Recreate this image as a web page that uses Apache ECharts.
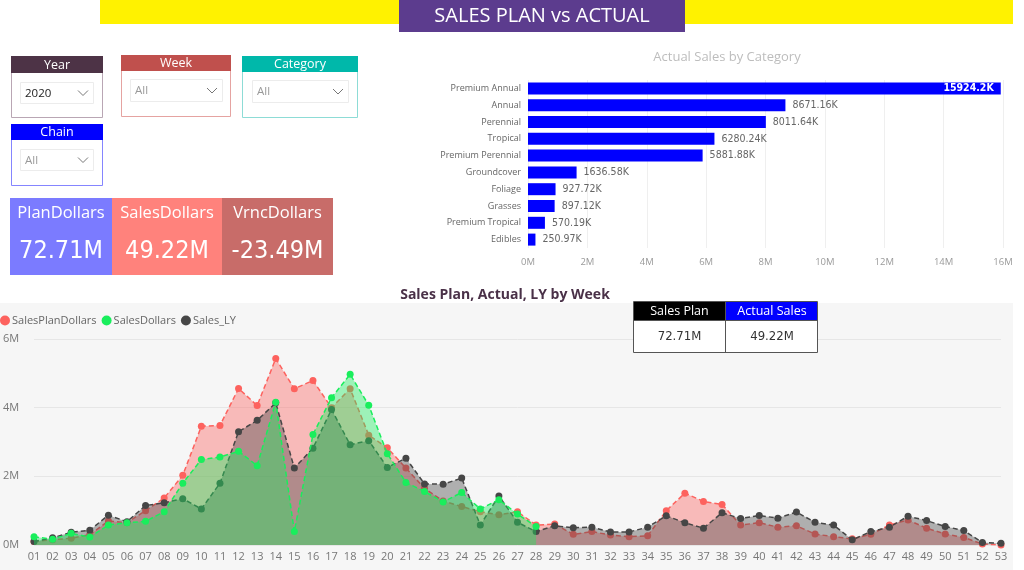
<!DOCTYPE html>
<html>
<head>
<meta charset="utf-8">
<script src="https://cdn.jsdelivr.net/npm/echarts@6/dist/echarts.min.js"></script>
<style>
html,body{margin:0;padding:0;background:#fff;}
#main{width:1024px;height:570px;}
</style>
</head>
<body>
<div id="main"></div>
<script>
// ---------- data ----------
var categories = ['Premium Annual','Annual','Perennial','Tropical','Premium Perennial','Groundcover','Foliage','Grasses','Premium Tropical','Edibles'];
var categorySalesK = [15924.2, 8671.16, 8011.64, 6280.24, 5881.88, 1636.58, 927.72, 897.12, 570.19, 250.97];

var weeks = ['01','02','03','04','05','06','07','08','09','10','11','12','13','14','15','16','17','18','19','20','21','22','23','24','25','26','27','28','29','30','31','32','33','34','35','36','37','38','39','40','41','42','43','44','45','46','47','48','49','50','51','52','53'];
// values in millions
var salesPlan = [0.10,0.15,0.20,0.30,0.70,0.65,1.00,1.37,2.03,3.46,3.48,4.56,4.06,5.43,4.55,4.79,4.00,4.55,3.20,2.83,2.24,1.65,1.28,1.12,0.97,0.88,0.97,0.58,0.61,0.31,0.39,0.29,0.24,0.27,1.00,1.51,1.27,1.18,0.58,0.65,0.52,0.56,0.32,0.24,0.18,0.31,0.58,0.73,0.49,0.32,0.22,0.03,0.00];
var salesActual = [0.24,0.17,0.34,0.23,0.58,0.65,0.69,0.97,1.80,2.49,2.56,2.73,2.31,4.16,0.39,3.22,4.29,4.97,4.07,2.66,1.82,1.56,1.25,1.53,1.05,1.32,0.90,0.54,null,null,null,null,null,null,null,null,null,null,null,null,null,null,null,null,null,null,null,null,null,null,null,null,null];
var salesLY = [0.10,0.21,0.37,0.43,0.87,0.68,1.15,1.23,1.35,1.05,1.80,3.30,3.63,4.14,2.24,2.82,3.95,2.92,3.04,2.26,2.53,1.78,1.77,1.95,0.58,1.43,0.66,0.39,0.56,0.50,0.52,0.38,0.38,0.52,0.85,0.65,0.49,0.94,0.77,0.86,0.78,0.96,0.66,0.58,0.15,0.39,0.52,0.84,0.71,0.54,0.42,0.07,0.05];
var yTicksM = [0, 6, 2];   // min, max, interval (millions)
var barTicksK = [0, 16000, 2000];

var kpiLabels = ['PlanDollars','SalesDollars','VrncDollars'];
var kpiValues = ['72.71M','49.22M','-23.49M'];
var tableHeaders = ['Sales Plan','Actual Sales'];
var tableValues = ['72.71M','49.22M'];

// ---------- helpers ----------
var SEG = "'Open Sans', 'Noto Sans', sans-serif";
var DIN = "'DejaVu Sans Condensed', Roboto, sans-serif";
var g = [];
function rect(x,y,w,h,fill,stroke,z){g.push({type:'rect',z:z||1,shape:{x:x,y:y,width:w,height:h},style:{fill:fill||'none',stroke:stroke||null,lineWidth:1}});}
function text(x,y,t,fill,size,fam,weight,align,z){g.push({type:'text',z:z||2,x:x,y:y,style:{text:t,fill:fill,fontSize:size,fontFamily:fam||SEG,fontWeight:weight||'normal',align:align||'center',verticalAlign:'middle'}});}
function chevron(x,y,z){g.push({type:'polyline',z:z||2,shape:{points:[[x,y],[x+5,y+5],[x+10,y]]},style:{stroke:'#777',fill:null,lineWidth:1}});}
function slicer(x,y,w,h,hh,hc,bc,title,dx,dy,dw,dh,val,vc){
  rect(x+0.5,y+0.5,w,h,'#fff',bc);
  rect(x,y,w+1,hh,hc,null);
  text(x+w/2+0.5,y+hh/2+0.5,title,'#fff',12.5);
  rect(dx+0.5,dy+0.5,dw,dh,'#fff','#ececec');
  text(dx+5,dy+dh/2+1,val,vc,11.5,SEG,'normal','left');
  chevron(dx+dw-15,dy+dh/2-2);
}

// header
rect(100,0,913,24,'#FFF200',null);
rect(399,0,286,32,'#5C3C8E',null,3);
text(542,16,'SALES PLAN vs ACTUAL','#fff',20,SEG,'normal','center',4);

// slicers
slicer(11,56,91,61,17,'#4D3346','#B9A6B4','Year',20,82,73,21,'2020','#222');
slicer(121,55,109,61,16,'#C0504D','#E5A3A1','Week',130,79,92,22,'All','#999');
slicer(242,56,115,61,16,'#00B8AA','#8DDCD6','Category',252,80,96,22,'All','#999');
slicer(11,124,91,61,16,'#0000FF','#8585FF','Chain',20,149,73,21,'All','#999');

// KPI cards
var kpiColors = ['#7B7BFF','#FF827C','#C86C69'];
var kx = [10,112,222,333];
for (var i=0;i<3;i++){
  rect(kx[i],198,kx[i+1]-kx[i],77,kpiColors[i],null);
  text((kx[i]+kx[i+1])/2,213,kpiLabels[i],'#fff',16.5);
  text((kx[i]+kx[i+1])/2,251,kpiValues[i],'#fff',25,DIN,'normal');
}

// bar chart title
text(727,57,'Actual Sales by Category','#BDBDBD',13);

// line chart background & title
rect(0,303,1013,267,'#F6F6F6',null,-10);
text(505,295,'Sales Plan, Actual, LY by Week','#4A3148',14,SEG,'bold');

// table card
rect(633.5,301.5,184,51,'#fff','#555',50);
rect(634,302,91,18,'#000',null,51);
rect(726,302,91,18,'#0000FF',null,51);
g.push({type:'line',z:52,shape:{x1:725.5,y1:302,x2:725.5,y2:352},style:{stroke:'#555',lineWidth:1}});
g.push({type:'line',z:52,shape:{x1:634,y1:320.5,x2:818,y2:320.5},style:{stroke:'#555',lineWidth:1}});
text(679.5,311.5,tableHeaders[0],'#fff',12.5,SEG,'normal','center',53);
text(772,311.5,tableHeaders[1],'#fff',12.5,SEG,'normal','center',53);
text(679.5,337,tableValues[0],'#333',13,DIN,'normal','center',53);
text(772,337,tableValues[1],'#333',13,DIN,'normal','center',53);

var RED='#FD625E', GREEN='#19EE5C', GRAY='#464646';
function lineSeries(name,data,color,z){
  return {name:name,type:'line',xAxisIndex:1,yAxisIndex:1,data:data,z:z,
    symbol:'circle',symbolSize:7,showAllSymbol:true,connectNulls:false,
    itemStyle:{color:color},
    lineStyle:{color:color,width:1.5,type:[5,3]},
    areaStyle:{color:color,opacity:0.4},
    emphasis:{disabled:true}};
}

var option = {
  animation:false,
  backgroundColor:'#fff',
  textStyle:{fontFamily:SEG},
  graphic:{elements:g},
  legend:{
    data:['SalesPlanDollars','SalesDollars','Sales_LY'],
    left:0, top:315, padding:0, icon:'circle', itemWidth:10, itemHeight:10, itemGap:5,
    textStyle:{color:'#666',fontSize:11,fontFamily:SEG,padding:[0,0,0,-3]}
  },
  grid:[
    {left:528,right:21,top:80,bottom:322},
    {left:32,right:23,top:339,bottom:25}
  ],
  xAxis:[
    {gridIndex:0,type:'value',min:barTicksK[0],max:barTicksK[1],interval:barTicksK[2],
     axisLabel:{color:'#9A9A9A',fontSize:9.5,margin:9,formatter:function(v){return (v/1000)+'M';}},
     splitLine:{lineStyle:{color:'#EFEFEF'}},axisLine:{show:false},axisTick:{show:false}},
    {gridIndex:1,type:'category',data:weeks,boundaryGap:false,
     axisLabel:{color:'#777',fontSize:11,margin:6,interval:0},
     axisLine:{show:false},axisTick:{show:false}}
  ],
  yAxis:[
    {gridIndex:0,type:'category',data:categories,inverse:true,
     axisLabel:{color:'#666',fontSize:9,margin:7},
     axisLine:{show:false},axisTick:{show:false}},
    {gridIndex:1,type:'value',min:yTicksM[0],max:yTicksM[1],interval:yTicksM[2],
     axisLabel:{color:'#777',fontSize:11,align:'left',margin:31,formatter:function(v){return v+'M';}},
     splitLine:{lineStyle:{color:'#E6E6E6'}},axisLine:{show:false},axisTick:{show:false}}
  ],
  series:[
    {type:'bar',xAxisIndex:0,yAxisIndex:0,data:categorySalesK,barWidth:12,
     itemStyle:{color:'#0000FF'},
     label:{show:true,position:'right',distance:7,color:'#666',fontSize:10.5,fontFamily:DIN,
       formatter:function(p){return p.value+'K';}},
     emphasis:{disabled:true}},
    lineSeries('SalesPlanDollars',salesPlan,RED,2),
    lineSeries('Sales_LY',salesLY,GRAY,3),
    lineSeries('SalesDollars',salesActual,GREEN,4)
  ]
};
// first bar label inside
option.series[0].data = categorySalesK.map(function(v,i){
  return i===0 ? {value:v,label:{position:'insideRight',color:'#fff',fontWeight:'bold'}} : v;
});
var chart = echarts.init(document.getElementById('main'),null,{renderer:'canvas'});
chart.setOption(option);
</script>
</body>
</html>
